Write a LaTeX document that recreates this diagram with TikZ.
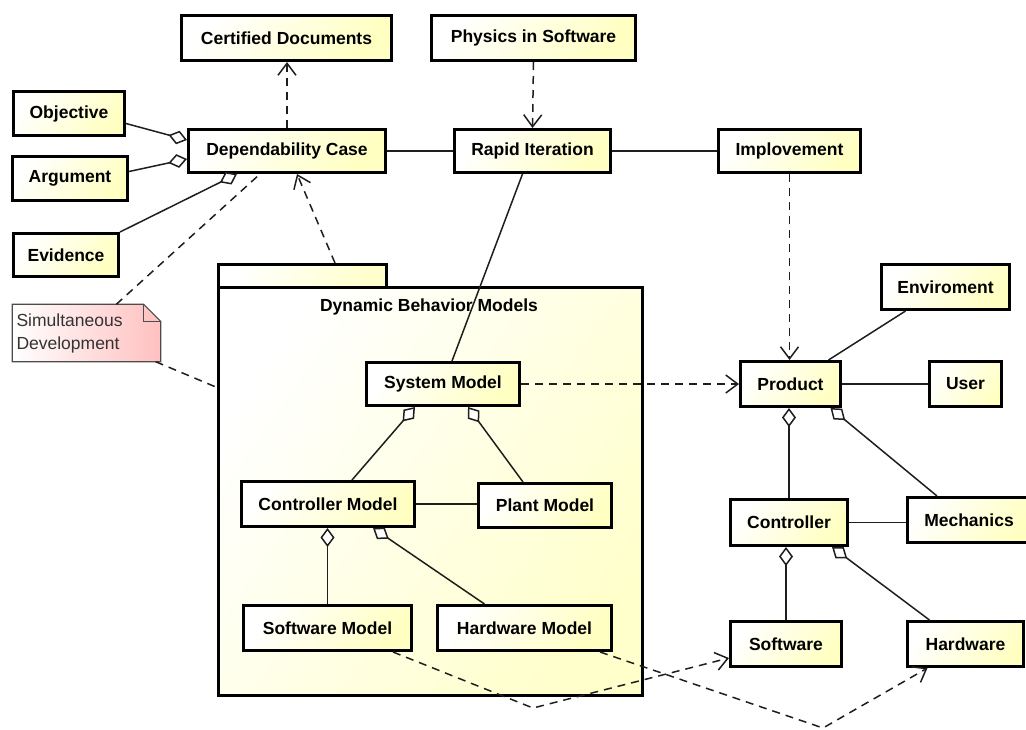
\documentclass[tikz,border=0pt]{standalone}
\usepackage{fontspec}
\setmainfont{Liberation Sans}
\usetikzlibrary{arrows.meta,calc,backgrounds}
\definecolor{boxyellow}{RGB}{255,255,194}
\definecolor{pkgyellow}{RGB}{255,255,204}
\definecolor{notepink}{RGB}{255,192,192}
\definecolor{linegray}{RGB}{30,30,30}

% class box given by its outer corners (x1,y1) (x2,y2)
\newcommand\umlbox[6]{%
  \pgfmathsetmacro\ubx{(#2+#4)/2}\pgfmathsetmacro\uby{(#3+#5)/2}%
  \pgfmathsetmacro\ubw{#4-#2-2.6}\pgfmathsetmacro\ubh{#5-#3-2.6}%
  \node[cls, minimum width=\ubw pt, minimum height=\ubh pt] (#1) at (\ubx,\uby) {#6};}

\begin{document}
\begin{tikzpicture}[x=1pt,y=-1pt,
  cls/.style={draw=black, line width=2.6pt, top color=white, bottom color=boxyellow,
    shading angle=55, inner sep=0pt, font=\bfseries\fontsize{17.5}{21}\selectfont},
  pkgpart/.style={draw=black, line width=2.6pt, top color=white, bottom color=pkgyellow,
    shading angle=55, inner sep=0pt},
  pkglabel/.style={font=\bfseries\fontsize{17.5}{21}\selectfont},
  notetext/.style={font=\fontsize{17.5}{23}\selectfont, text=black!80, align=left,
    text width=140pt, inner sep=3pt, minimum width=148pt, minimum height=57pt},
  notefill/.style={left color=white, right color=notepink, draw=black!70, line width=1.2pt},
  assoc/.style={draw=linegray, line width=1.5pt},
  aggr/.style={assoc, -{Diamond[fill=white, length=19pt, width=14pt]}},
  dep/.style={draw=linegray, line width=1.5pt, dash pattern=on 8pt off 6pt,
    -{Straight Barb[length=12pt, width=18pt]}},
  anchorline/.style={draw=linegray, line width=1.5pt, dash pattern=on 8pt off 6pt}]

\useasboundingbox (0,0) rectangle (1026,729);

% package "Dynamic Behavior Models"
\node[pkgpart, minimum width=168.4pt, minimum height=23pt] (pkgtab) at (302.5,275.8) {};
\node[pkgpart, minimum width=424.4pt, minimum height=408.4pt] (pkg) at (430.5,491.5) {};
\node[pkglabel] (pkgtitle) at (429,307) {Dynamic Behavior Models};

% classes
\umlbox{cd}{180}{14}{393}{62}{Certified Documents}
\umlbox{phys}{430}{14}{637}{62}{Physics in Software}
\umlbox{obj}{12}{90}{126}{137}{Objective}
\umlbox{arg}{11}{155}{129}{202}{Argument}
\umlbox{ev}{12}{232}{120}{278}{Evidence}
\umlbox{dc}{187}{128}{387}{174}{Dependability Case}
\umlbox{ri}{453}{128}{612}{174}{Rapid Iteration}
\umlbox{imp}{717}{128}{862}{174}{Implovement}
\umlbox{sys}{365}{361}{521}{407}{System Model}
\umlbox{cm}{240}{480}{416}{528}{Controller Model}
\umlbox{plant}{477}{482}{613}{529}{Plant Model}
\umlbox{swm}{242}{604}{413}{652}{Software Model}
\umlbox{hwm}{436}{604}{613}{652}{Hardware Model}
\umlbox{env}{880}{263}{1011}{311}{Enviroment}
\umlbox{prod}{739}{360}{842}{408}{Product}
\umlbox{user}{928}{360}{1003}{408}{User}
\umlbox{ctrl}{729}{498}{849}{547}{Controller}
\umlbox{mech}{906}{496}{1032}{544}{Mechanics}
\umlbox{sw}{729}{620}{843}{668}{Software}
\umlbox{hw}{906}{620}{1025}{668}{Hardware}

% note with folded corner
\node[notetext] (note) at (86.5,333) {Simultaneous\\Development};
\begin{pgfonlayer}{background}
  \shade[notefill] (note.north west) -- ([xshift=-17pt]note.north east)
    -- ([yshift=-17pt]note.north east) -- (note.south east) -- (note.south west) -- cycle;
  \draw[draw=black!70, line width=1.2pt] ([xshift=-17pt]note.north east)
    -- ([xshift=-17pt,yshift=-17pt]note.north east) -- ([yshift=-17pt]note.north east);
\end{pgfonlayer}

% dependability case
\draw[dep] (dc.north) -- (dc.north |- cd.south);
\draw[aggr] ([yshift=-10pt]obj.east) -- ([yshift=11pt]dc.west);
\draw[aggr] ([yshift=7pt]arg.east) -- ([yshift=-8pt]dc.west);
\draw[aggr] (ev.north east) -- ([xshift=-50pt]dc.south);
\draw[dep] ([xshift=32.5pt]pkgtab.north) -- ([xshift=10pt]dc.south);
\draw[anchorline] ([xshift=104pt]note.north west) -- ([xshift=-27pt]dc.south);
\draw[anchorline] ([xshift=-5pt]note.south east) -- ([yshift=104pt]pkg.west);

% rapid iteration
\draw[assoc] (dc.east) -- (ri.west);
\draw[assoc] (ri.east) -- (imp.west);
\draw[dep] (phys.south) -- (ri.north);
\draw[assoc] ([xshift=-10pt]ri.south) -- ([xshift=9pt]sys.north);
\draw[dep] (imp.south) -- (imp.south |- prod.north);

% models
\draw[dep] (sys.east) -- (sys.east -| prod.west);
\draw[aggr] ([xshift=24pt]cm.north) -- ([xshift=-28pt]sys.south);
\draw[aggr] ([xshift=-22pt]plant.north) -- ([xshift=25pt]sys.south);
\draw[assoc] (cm.east) -- (cm.east -| plant.west);
\draw[aggr] (swm.north) -- (swm.north |- cm.south);
\draw[aggr] ([xshift=-40pt]hwm.north) -- ([xshift=45pt]cm.south);

% product
\draw[assoc] ([xshift=38pt]prod.north) -- ([xshift=-40pt]env.south);
\draw[assoc] (prod.east) -- (user.west);
\draw[aggr] (ctrl.north) -- (ctrl.north |- prod.south);
\draw[aggr] ([xshift=31pt]mech.north west) -- ([xshift=40pt]prod.south);
\draw[assoc] (ctrl.east) -- (ctrl.east -| mech.west);
\draw[aggr] (sw.north) -- (sw.north |- ctrl.south);
\draw[aggr] ([xshift=-36pt]hw.north) -- ([xshift=43pt]ctrl.south);

% model realisations
\coordinate (bendA) at (533,708);
\coordinate (bendB) at (823,728);
\draw[dep] ([xshift=-20pt]swm.south east) -- (bendA) -- ([yshift=-14pt]sw.west);
\draw[dep] ([xshift=-13pt]hwm.south east) -- (bendB) -- ([xshift=-38pt]hw.south);
\end{tikzpicture}
\end{document}
